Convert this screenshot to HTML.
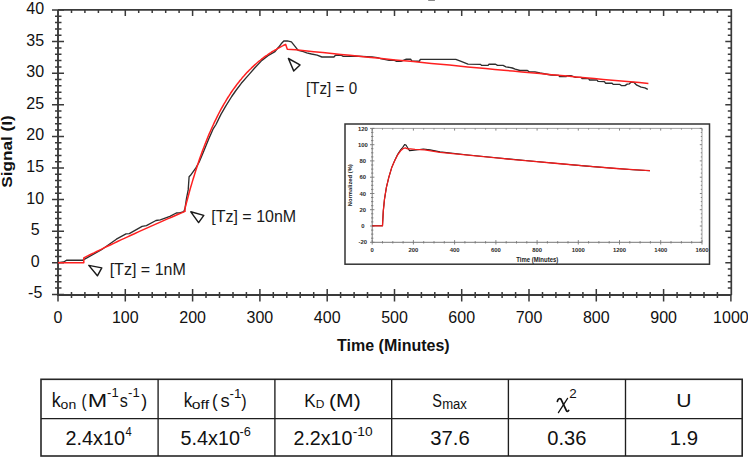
<!DOCTYPE html>
<html><head><meta charset="utf-8"><title>Binding kinetics</title>
<style>
html,body{margin:0;padding:0;background:#fff;}
body{width:748px;height:457px;overflow:hidden;font-family:"Liberation Sans",sans-serif;}
svg{display:block;}
</style></head><body>
<svg width="748" height="457" viewBox="0 0 748 457"><path d="M58.0 9.9 H731.3 V295.0" fill="none" stroke="#3a3a3a" stroke-width="1.7"/><path d="M58.0 9.9 V295.0 H731.3" fill="none" stroke="#3a3a3a" stroke-width="1.9"/><path d="M58.0 289.0V301.5M71.5 292.0V298.0M71.5 9.9V12.9M84.9 292.0V298.0M84.9 9.9V12.9M98.4 292.0V298.0M98.4 9.9V12.9M111.8 292.0V298.0M111.8 9.9V12.9M125.3 289.0V301.5M125.3 9.9V15.9M138.7 292.0V298.0M138.7 9.9V12.9M152.2 292.0V298.0M152.2 9.9V12.9M165.7 292.0V298.0M165.7 9.9V12.9M179.1 292.0V298.0M179.1 9.9V12.9M192.6 289.0V301.5M192.6 9.9V15.9M206.0 292.0V298.0M206.0 9.9V12.9M219.5 292.0V298.0M219.5 9.9V12.9M233.0 292.0V298.0M233.0 9.9V12.9M246.4 292.0V298.0M246.4 9.9V12.9M259.9 289.0V301.5M259.9 9.9V15.9M273.3 292.0V298.0M273.3 9.9V12.9M286.8 292.0V298.0M286.8 9.9V12.9M300.2 292.0V298.0M300.2 9.9V12.9M313.7 292.0V298.0M313.7 9.9V12.9M327.2 289.0V301.5M327.2 9.9V15.9M340.6 292.0V298.0M340.6 9.9V12.9M354.1 292.0V298.0M354.1 9.9V12.9M367.5 292.0V298.0M367.5 9.9V12.9M381.0 292.0V298.0M381.0 9.9V12.9M394.5 289.0V301.5M394.5 9.9V15.9M407.9 292.0V298.0M407.9 9.9V12.9M421.4 292.0V298.0M421.4 9.9V12.9M434.8 292.0V298.0M434.8 9.9V12.9M448.3 292.0V298.0M448.3 9.9V12.9M461.7 289.0V301.5M461.7 9.9V15.9M475.2 292.0V298.0M475.2 9.9V12.9M488.7 292.0V298.0M488.7 9.9V12.9M502.1 292.0V298.0M502.1 9.9V12.9M515.6 292.0V298.0M515.6 9.9V12.9M529.0 289.0V301.5M529.0 9.9V15.9M542.5 292.0V298.0M542.5 9.9V12.9M555.9 292.0V298.0M555.9 9.9V12.9M569.4 292.0V298.0M569.4 9.9V12.9M582.9 292.0V298.0M582.9 9.9V12.9M596.3 289.0V301.5M596.3 9.9V15.9M609.8 292.0V298.0M609.8 9.9V12.9M623.2 292.0V298.0M623.2 9.9V12.9M636.7 292.0V298.0M636.7 9.9V12.9M650.2 292.0V298.0M650.2 9.9V12.9M663.6 289.0V301.5M663.6 9.9V15.9M677.1 292.0V298.0M677.1 9.9V12.9M690.5 292.0V298.0M690.5 9.9V12.9M704.0 292.0V298.0M704.0 9.9V12.9M717.4 292.0V298.0M717.4 9.9V12.9M730.9 295.0V301.5M52.0 294.4H64.0M55.0 288.1H61.5M727.8 288.1H731.3M55.0 281.8H61.5M727.8 281.8H731.3M55.0 275.4H61.5M727.8 275.4H731.3M55.0 269.1H61.5M727.8 269.1H731.3M52.0 262.8H64.0M725.3 262.8H731.3M55.0 256.5H61.5M727.8 256.5H731.3M55.0 250.2H61.5M727.8 250.2H731.3M55.0 243.8H61.5M727.8 243.8H731.3M55.0 237.5H61.5M727.8 237.5H731.3M52.0 231.2H64.0M725.3 231.2H731.3M55.0 224.9H61.5M727.8 224.9H731.3M55.0 218.6H61.5M727.8 218.6H731.3M55.0 212.2H61.5M727.8 212.2H731.3M55.0 205.9H61.5M727.8 205.9H731.3M52.0 199.6H64.0M725.3 199.6H731.3M55.0 193.3H61.5M727.8 193.3H731.3M55.0 187.0H61.5M727.8 187.0H731.3M55.0 180.6H61.5M727.8 180.6H731.3M55.0 174.3H61.5M727.8 174.3H731.3M52.0 168.0H64.0M725.3 168.0H731.3M55.0 161.7H61.5M727.8 161.7H731.3M55.0 155.4H61.5M727.8 155.4H731.3M55.0 149.0H61.5M727.8 149.0H731.3M55.0 142.7H61.5M727.8 142.7H731.3M52.0 136.4H64.0M725.3 136.4H731.3M55.0 130.1H61.5M727.8 130.1H731.3M55.0 123.8H61.5M727.8 123.8H731.3M55.0 117.4H61.5M727.8 117.4H731.3M55.0 111.1H61.5M727.8 111.1H731.3M52.0 104.8H64.0M725.3 104.8H731.3M55.0 98.5H61.5M727.8 98.5H731.3M55.0 92.2H61.5M727.8 92.2H731.3M55.0 85.8H61.5M727.8 85.8H731.3M55.0 79.5H61.5M727.8 79.5H731.3M52.0 73.2H64.0M725.3 73.2H731.3M55.0 66.9H61.5M727.8 66.9H731.3M55.0 60.6H61.5M727.8 60.6H731.3M55.0 54.2H61.5M727.8 54.2H731.3M55.0 47.9H61.5M727.8 47.9H731.3M52.0 41.6H64.0M725.3 41.6H731.3M55.0 35.3H61.5M727.8 35.3H731.3M55.0 29.0H61.5M727.8 29.0H731.3M55.0 22.6H61.5M727.8 22.6H731.3M55.0 16.3H61.5M727.8 16.3H731.3M52.0 10.0H64.0" stroke="#3a3a3a" stroke-width="1.5" fill="none"/><g font-family='"Liberation Sans", sans-serif' font-size="16" fill="#111"><text x="35.2" y="292.8" text-anchor="middle" dominant-baseline="central">-5</text><text x="35.2" y="261.2" text-anchor="middle" dominant-baseline="central">0</text><text x="35.2" y="229.6" text-anchor="middle" dominant-baseline="central">5</text><text x="35.2" y="198.0" text-anchor="middle" dominant-baseline="central">10</text><text x="35.2" y="166.4" text-anchor="middle" dominant-baseline="central">15</text><text x="35.2" y="134.8" text-anchor="middle" dominant-baseline="central">20</text><text x="35.2" y="103.2" text-anchor="middle" dominant-baseline="central">25</text><text x="35.2" y="71.6" text-anchor="middle" dominant-baseline="central">30</text><text x="35.2" y="40.0" text-anchor="middle" dominant-baseline="central">35</text><text x="35.2" y="8.4" text-anchor="middle" dominant-baseline="central">40</text><text x="58.0" y="323" text-anchor="middle">0</text><text x="125.3" y="323" text-anchor="middle">100</text><text x="192.6" y="323" text-anchor="middle">200</text><text x="259.9" y="323" text-anchor="middle">300</text><text x="327.2" y="323" text-anchor="middle">400</text><text x="394.5" y="323" text-anchor="middle">500</text><text x="461.7" y="323" text-anchor="middle">600</text><text x="529.0" y="323" text-anchor="middle">700</text><text x="596.3" y="323" text-anchor="middle">800</text><text x="663.6" y="323" text-anchor="middle">900</text><text x="730.9" y="323" text-anchor="middle">1000</text></g><text x="393.4" y="351" text-anchor="middle" font-family='"Liberation Sans", sans-serif' font-size="16" font-weight="bold" fill="#111">Time (Minutes)</text><g transform="translate(11.8 0) rotate(-90)"><text x="-187.80" y="0.00" font-family='"Liberation Sans", sans-serif' font-size="15.20" font-weight="bold" fill="#111" textLength="72.55" lengthAdjust="spacingAndGlyphs">Signal (I)</text></g><polyline points="58.2,262.6 63.6,262.0 66.8,260.2 82.8,260.2 86.0,258.4 101.5,249.7 110.0,243.8 116.4,239.2 126.0,233.9 129.3,233.6 142.1,226.4 146.4,225.6 156.0,220.5 160.3,219.8 169.9,216.4 176.3,213.0 179.5,212.8 183.8,211.6 185.0,208.5 186.5,198.4 188.2,189.9 189.1,176.8 190.5,175.3 195.9,167.9 199.2,162.0 203.1,152.8 208.4,139.7 213.0,129.2 216.0,124.5 220.8,114.6 225.7,106.1 231.7,96.5 235.9,90.5 241.3,83.3 248.7,74.9 254.9,67.8 261.9,60.4 268.0,55.6 275.0,51.6 278.5,47.3 281.2,43.8 283.8,41.0 287.4,40.9 291.4,41.8 298.2,50.4 303.4,51.6 306.7,52.8 311.5,54.0 317.1,55.2 321.9,57.0 333.9,57.0 335.5,55.2 341.1,55.2 343.2,56.3 349.6,56.3 352.0,56.0 372.0,56.9 377.4,57.6 380.6,58.7 389.2,60.3 394.5,60.3 396.7,61.4 401.0,61.4 406.3,59.2 410.6,59.2 411.9,61.2 419.4,61.2 420.3,59.4 455.8,59.4 460.5,61.2 468.0,64.2 480.6,64.4 481.5,65.4 488.1,65.4 489.0,64.2 495.6,64.2 497.5,65.4 503.1,65.4 505.9,66.8 512.4,68.0 515.2,69.1 519.9,70.5 527.4,70.5 529.3,71.9 534.9,71.9 540.0,73.0 551.2,75.0 558.7,75.4 559.6,76.5 566.2,76.5 567.1,75.6 570.9,75.6 575.5,77.4 581.2,77.4 582.1,78.6 588.6,78.6 589.6,80.0 597.1,80.0 598.0,81.4 604.4,81.6 605.5,83.2 612.1,83.2 613.2,84.4 619.9,84.4 621.3,85.6 625.0,85.6 627.2,84.1 629.4,83.8 630.9,82.3 633.8,82.3 636.8,85.2 641.2,87.1 644.9,87.8 647.8,89.3" fill="none" stroke="#2e2e2e" stroke-width="1.35" stroke-linejoin="round"/><polyline points="58.0,262.8 83.8,262.8 83.8,257.9 87.2,256.2 90.5,254.5 93.9,252.9 97.3,251.2 100.7,249.6 104.0,247.9 107.4,246.3 110.8,244.7 114.2,243.1 117.5,241.5 120.9,239.9 124.3,238.4 127.6,236.8 131.0,235.2 134.4,233.7 137.8,232.1 141.1,230.6 144.5,229.1 147.9,227.6 151.2,226.1 154.6,224.6 158.0,223.1 161.4,221.6 164.7,220.1 168.1,218.6 171.5,217.2 174.9,215.7 178.2,214.3 181.6,212.9 185.0,211.4 185.0,208.5 186.3,203.3 187.7,198.2 189.0,193.3 190.3,188.5 191.7,183.9 193.0,179.4 194.4,175.0 195.7,170.7 197.1,166.6 198.4,162.6 199.7,158.6 201.1,154.8 202.4,151.1 203.8,147.5 205.1,144.0 206.5,140.6 207.8,137.3 209.1,134.1 210.5,131.0 211.8,128.0 213.2,125.0 214.5,122.1 215.9,119.3 217.2,116.6 218.5,114.0 219.9,111.4 221.2,108.9 222.6,106.5 223.9,104.2 225.3,101.9 226.6,99.6 227.9,97.5 229.3,95.4 230.6,93.3 232.0,91.3 233.3,89.4 234.7,87.5 236.0,85.7 237.3,83.9 238.7,82.2 240.0,80.5 241.4,78.9 242.7,77.3 244.1,75.8 245.4,74.3 246.7,72.8 248.1,71.4 249.4,70.0 250.8,68.7 252.1,67.4 253.5,66.1 254.8,64.9 256.1,63.7 257.5,62.5 258.8,61.4 260.2,60.3 261.5,59.2 262.9,58.2 264.2,57.2 265.5,56.2 266.9,55.3 268.2,54.3 269.6,53.4 270.9,52.6 272.2,51.7 273.6,50.9 274.9,50.1 276.3,49.3 277.6,48.5 279.0,47.8 280.3,47.1 281.6,46.4 283.0,45.7 284.3,45.0 285.7,44.4 287.3,49.3 295.7,49.8 304.8,50.7 313.8,51.7 322.9,52.6 331.9,53.5 340.9,54.4 350.0,55.3 359.0,56.3 368.1,57.2 377.1,58.1 386.2,59.0 395.2,59.9 404.2,60.7 413.3,61.6 422.3,62.5 431.4,63.4 440.4,64.3 449.5,65.1 458.5,66.0 467.5,66.9 476.6,67.7 485.6,68.6 494.7,69.4 503.7,70.3 512.8,71.1 521.8,72.0 530.9,72.8 539.9,73.6 548.9,74.5 558.0,75.3 567.0,76.1 576.1,76.9 585.1,77.8 594.2,78.6 603.2,79.4 612.2,80.2 621.3,81.0 630.3,81.8 639.4,82.6 648.4,83.4" fill="none" stroke="#ff2020" stroke-width="1.5" stroke-linejoin="round"/><rect x="428.2" y="0" width="6.7" height="1" fill="#888"/><polygon points="88.8,265.4 101.8,267.9 97.4,275.8" fill="none" stroke="#1a1a1a" stroke-width="1.45" stroke-linejoin="round"/><polygon points="190.8,211.8 203.8,215.4 198.6,222.6" fill="none" stroke="#1a1a1a" stroke-width="1.45" stroke-linejoin="round"/><polygon points="288.4,58.5 300.0,64.9 293.7,70.9" fill="none" stroke="#1a1a1a" stroke-width="1.45" stroke-linejoin="round"/><text x="109.66" y="274.70" font-family='"Liberation Sans", sans-serif' font-size="17.00" fill="#1a1a1a" textLength="76.16" lengthAdjust="spacingAndGlyphs">[Tz] = 1nM</text><text x="211.26" y="222.10" font-family='"Liberation Sans", sans-serif' font-size="17.00" fill="#1a1a1a" textLength="84.95" lengthAdjust="spacingAndGlyphs">[Tz] = 10nM</text><text x="306.02" y="94.20" font-family='"Liberation Sans", sans-serif' font-size="17.00" fill="#1a1a1a" textLength="51.08" lengthAdjust="spacingAndGlyphs">[Tz] = 0</text><rect x="345" y="124" width="364.5" height="140.2" fill="#fff" stroke="#333" stroke-width="1.5"/><path d="M372.2 128.4 H702.0 V242.3" fill="none" stroke="#999" stroke-width="0.9"/><path d="M372.2 128.4 V242.3 H702.0" fill="none" stroke="#777" stroke-width="1"/><path d="M372.2 240.1V244.5M372.2 128.4V130.6M382.5 241.1V243.5M382.5 128.4V129.6M392.8 241.1V243.5M392.8 128.4V129.6M403.1 241.1V243.5M403.1 128.4V129.6M413.4 240.1V244.5M413.4 128.4V130.6M423.7 241.1V243.5M423.7 128.4V129.6M434.0 241.1V243.5M434.0 128.4V129.6M444.3 241.1V243.5M444.3 128.4V129.6M454.6 240.1V244.5M454.6 128.4V130.6M464.9 241.1V243.5M464.9 128.4V129.6M475.2 241.1V243.5M475.2 128.4V129.6M485.6 241.1V243.5M485.6 128.4V129.6M495.9 240.1V244.5M495.9 128.4V130.6M506.2 241.1V243.5M506.2 128.4V129.6M516.5 241.1V243.5M516.5 128.4V129.6M526.8 241.1V243.5M526.8 128.4V129.6M537.1 240.1V244.5M537.1 128.4V130.6M547.4 241.1V243.5M547.4 128.4V129.6M557.7 241.1V243.5M557.7 128.4V129.6M568.0 241.1V243.5M568.0 128.4V129.6M578.3 240.1V244.5M578.3 128.4V130.6M588.6 241.1V243.5M588.6 128.4V129.6M598.9 241.1V243.5M598.9 128.4V129.6M609.2 241.1V243.5M609.2 128.4V129.6M619.5 240.1V244.5M619.5 128.4V130.6M629.8 241.1V243.5M629.8 128.4V129.6M640.1 241.1V243.5M640.1 128.4V129.6M650.4 241.1V243.5M650.4 128.4V129.6M660.7 240.1V244.5M660.7 128.4V130.6M671.0 241.1V243.5M671.0 128.4V129.6M681.4 241.1V243.5M681.4 128.4V129.6M691.7 241.1V243.5M691.7 128.4V129.6M702.0 240.1V244.5M702.0 128.4V130.6M370.0 242.3H374.4M699.8 242.3H702.0M371.0 238.2H373.4M700.8 238.2H702.0M371.0 234.1H373.4M700.8 234.1H702.0M371.0 230.1H373.4M700.8 230.1H702.0M370.0 226.0H374.4M699.8 226.0H702.0M371.0 221.9H373.4M700.8 221.9H702.0M371.0 217.9H373.4M700.8 217.9H702.0M371.0 213.8H373.4M700.8 213.8H702.0M370.0 209.7H374.4M699.8 209.7H702.0M371.0 205.7H373.4M700.8 205.7H702.0M371.0 201.6H373.4M700.8 201.6H702.0M371.0 197.5H373.4M700.8 197.5H702.0M370.0 193.5H374.4M699.8 193.5H702.0M371.0 189.4H373.4M700.8 189.4H702.0M371.0 185.3H373.4M700.8 185.3H702.0M371.0 181.3H373.4M700.8 181.3H702.0M370.0 177.2H374.4M699.8 177.2H702.0M371.0 173.1H373.4M700.8 173.1H702.0M371.0 169.1H373.4M700.8 169.1H702.0M371.0 165.0H373.4M700.8 165.0H702.0M370.0 160.9H374.4M699.8 160.9H702.0M371.0 156.9H373.4M700.8 156.9H702.0M371.0 152.8H373.4M700.8 152.8H702.0M371.0 148.7H373.4M700.8 148.7H702.0M370.0 144.7H374.4M699.8 144.7H702.0M371.0 140.6H373.4M700.8 140.6H702.0M371.0 136.5H373.4M700.8 136.5H702.0M371.0 132.4H373.4M700.8 132.4H702.0M370.0 128.4H374.4M699.8 128.4H702.0" stroke="#777" stroke-width="0.9" fill="none"/><g font-family='"Liberation Sans", sans-serif' font-size="5.9" font-weight="bold" fill="#2a2a2a"><text x="362.8" y="244.4" text-anchor="middle">-20</text><text x="362.8" y="228.1" text-anchor="middle">0</text><text x="362.8" y="211.8" text-anchor="middle">20</text><text x="362.8" y="195.6" text-anchor="middle">40</text><text x="362.8" y="179.3" text-anchor="middle">60</text><text x="362.8" y="163.0" text-anchor="middle">80</text><text x="362.8" y="146.8" text-anchor="middle">100</text><text x="362.8" y="130.5" text-anchor="middle">120</text><text x="372.2" y="252.4" text-anchor="middle">0</text><text x="413.4" y="252.4" text-anchor="middle">200</text><text x="454.6" y="252.4" text-anchor="middle">400</text><text x="495.9" y="252.4" text-anchor="middle">600</text><text x="537.1" y="252.4" text-anchor="middle">800</text><text x="578.3" y="252.4" text-anchor="middle">1000</text><text x="619.5" y="252.4" text-anchor="middle">1200</text><text x="660.7" y="252.4" text-anchor="middle">1400</text><text x="702.0" y="252.4" text-anchor="middle">1600</text></g><text x="516.23" y="261.90" font-family='"Liberation Sans", sans-serif' font-size="6.60" font-weight="bold" fill="#1a1a1a" textLength="42.06" lengthAdjust="spacingAndGlyphs">Time (Minutes)</text><g transform="translate(352.4 0) rotate(-90)"><text x="-206.19" y="0.00" font-family='"Liberation Sans", sans-serif' font-size="5.80" font-weight="bold" fill="#1a1a1a" textLength="41.98" lengthAdjust="spacingAndGlyphs">Normalized (%)</text></g><polyline points="372.2,225.8 382.5,225.8 383.3,210.9 384.5,199.1 386.4,187.3 388.8,177.4 391.7,167.6 394.7,160.4 397.7,154.2 400.6,149.8 402.8,147.3 404.6,144.6 406.0,145.0 407.5,147.5 409.5,150.6 412.0,150.4 416.0,150.0 423.3,149.0 430.0,149.9 440.0,151.9 468.0,155.0 498.8,158.0 528.0,160.8 557.6,163.5 587.0,166.1 616.5,168.5 633.0,169.7 650.0,170.7" fill="none" stroke="#1a1a1a" stroke-width="1.1" stroke-linejoin="round"/><polyline points="372.2,225.8 382.5,225.8 383.3,210.9 384.5,199.1 386.4,187.3 388.8,177.4 391.7,167.6 394.7,160.7 397.7,154.8 400.6,150.8 403.6,148.3 405.5,147.9 407.5,148.9 410.5,148.9 415.0,149.3 424.6,149.9 440.0,152.3 468.0,155.2 498.8,158.2 528.0,160.9 557.6,163.5 587.0,166.1 616.5,168.5 633.0,169.7 650.0,170.7" fill="none" stroke="#f01c1c" stroke-width="1.3" stroke-linejoin="round"/><rect x="41.0" y="379.3" width="701.2" height="76.7" fill="none" stroke="#262626" stroke-width="1.6"/><path d="M41.0 418.6H742.2M158.1 379.3V456.0M274.9 379.3V456.0M391.7 379.3V456.0M508.4 379.3V456.0M625.5 379.3V456.0" stroke="#1e1e1e" stroke-width="1.35" fill="none"/><text x="51.79" y="407.00" font-family='"Liberation Sans", sans-serif' font-size="21.00" fill="#111" textLength="8.98" lengthAdjust="spacingAndGlyphs">k</text><text x="60.61" y="408.60" font-family='"Liberation Sans", sans-serif' font-size="13.50" fill="#111" textLength="15.60" lengthAdjust="spacingAndGlyphs">on</text><text x="81.56" y="407.00" font-family='"Liberation Sans", sans-serif' font-size="19.00" fill="#111" textLength="5.02" lengthAdjust="spacingAndGlyphs">(</text><text x="87.79" y="407.00" font-family='"Liberation Sans", sans-serif' font-size="19.00" fill="#111" textLength="19.43" lengthAdjust="spacingAndGlyphs">M</text><text x="107.12" y="397.40" font-family='"Liberation Sans", sans-serif' font-size="12.20" fill="#111" textLength="11.51" lengthAdjust="spacingAndGlyphs">-1</text><text x="119.65" y="407.00" font-family='"Liberation Sans", sans-serif' font-size="19.00" fill="#111" textLength="8.03" lengthAdjust="spacingAndGlyphs">s</text><text x="128.12" y="397.40" font-family='"Liberation Sans", sans-serif' font-size="12.20" fill="#111" textLength="11.62" lengthAdjust="spacingAndGlyphs">-1</text><text x="141.30" y="407.00" font-family='"Liberation Sans", sans-serif' font-size="19.00" fill="#111" textLength="5.90" lengthAdjust="spacingAndGlyphs">)</text><text x="183.85" y="407.00" font-family='"Liberation Sans", sans-serif' font-size="21.00" fill="#111" textLength="8.52" lengthAdjust="spacingAndGlyphs">k</text><text x="191.85" y="408.60" font-family='"Liberation Sans", sans-serif' font-size="13.50" fill="#111" textLength="17.23" lengthAdjust="spacingAndGlyphs">off</text><text x="212.05" y="407.00" font-family='"Liberation Sans", sans-serif' font-size="19.00" fill="#111" textLength="5.65" lengthAdjust="spacingAndGlyphs">(</text><text x="220.59" y="407.00" font-family='"Liberation Sans", sans-serif' font-size="19.00" fill="#111" textLength="9.17" lengthAdjust="spacingAndGlyphs">s</text><text x="229.51" y="397.50" font-family='"Liberation Sans", sans-serif' font-size="12.20" fill="#111" textLength="11.84" lengthAdjust="spacingAndGlyphs">-1</text><text x="241.30" y="407.00" font-family='"Liberation Sans", sans-serif' font-size="19.00" fill="#111" textLength="5.40" lengthAdjust="spacingAndGlyphs">)</text><text x="304.20" y="407.00" font-family='"Liberation Sans", sans-serif' font-size="19.00" fill="#111" textLength="11.39" lengthAdjust="spacingAndGlyphs">K</text><text x="315.82" y="407.90" font-family='"Liberation Sans", sans-serif' font-size="10.50" fill="#111" textLength="8.66" lengthAdjust="spacingAndGlyphs">D</text><text x="329.09" y="407.00" font-family='"Liberation Sans", sans-serif' font-size="19.00" fill="#111" textLength="31.62" lengthAdjust="spacingAndGlyphs">(M)</text><text x="432.34" y="407.00" font-family='"Liberation Sans", sans-serif' font-size="19.00" fill="#111" textLength="9.73" lengthAdjust="spacingAndGlyphs">S</text><text x="442.13" y="408.60" font-family='"Liberation Sans", sans-serif' font-size="14.00" fill="#111" textLength="24.81" lengthAdjust="spacingAndGlyphs">max</text><path d="M557.4 401.4C557.8 399.2 559.4 397.6 561.0 399.2L566.4 410.6C567.0 411.9 568.0 411.7 568.7 410.4" fill="none" stroke="#111" stroke-width="1.75" stroke-linecap="round"/><path d="M567.6 398.3L558.4 412.7" fill="none" stroke="#111" stroke-width="1.25" stroke-linecap="round"/><text x="569.23" y="397.60" font-family='"Liberation Sans", sans-serif' font-size="12.20" fill="#111" textLength="7.45" lengthAdjust="spacingAndGlyphs">2</text><text x="676.17" y="407.00" font-family='"Liberation Sans", sans-serif' font-size="19.00" fill="#111" textLength="15.26" lengthAdjust="spacingAndGlyphs">U</text><text x="65.61" y="445.40" font-family='"Liberation Sans", sans-serif' font-size="19.50" fill="#111" textLength="59.37" lengthAdjust="spacingAndGlyphs">2.4x10</text><text x="125.54" y="435.90" font-family='"Liberation Sans", sans-serif' font-size="12.20" fill="#111" textLength="6.18" lengthAdjust="spacingAndGlyphs">4</text><text x="180.61" y="445.40" font-family='"Liberation Sans", sans-serif' font-size="19.50" fill="#111" textLength="59.36" lengthAdjust="spacingAndGlyphs">5.4x10</text><text x="239.63" y="435.90" font-family='"Liberation Sans", sans-serif' font-size="12.20" fill="#111" textLength="11.33" lengthAdjust="spacingAndGlyphs">-6</text><text x="293.51" y="445.40" font-family='"Liberation Sans", sans-serif' font-size="19.50" fill="#111" textLength="58.95" lengthAdjust="spacingAndGlyphs">2.2x10</text><text x="352.69" y="436.00" font-family='"Liberation Sans", sans-serif' font-size="12.20" fill="#111" textLength="19.85" lengthAdjust="spacingAndGlyphs">-10</text><text x="430.23" y="445.40" font-family='"Liberation Sans", sans-serif' font-size="19.50" fill="#111" textLength="39.46" lengthAdjust="spacingAndGlyphs">37.6</text><text x="547.21" y="445.40" font-family='"Liberation Sans", sans-serif' font-size="19.50" fill="#111" textLength="39.17" lengthAdjust="spacingAndGlyphs">0.36</text><text x="669.85" y="445.40" font-family='"Liberation Sans", sans-serif' font-size="19.50" fill="#111" textLength="28.32" lengthAdjust="spacingAndGlyphs">1.9</text></svg>
</body></html>
